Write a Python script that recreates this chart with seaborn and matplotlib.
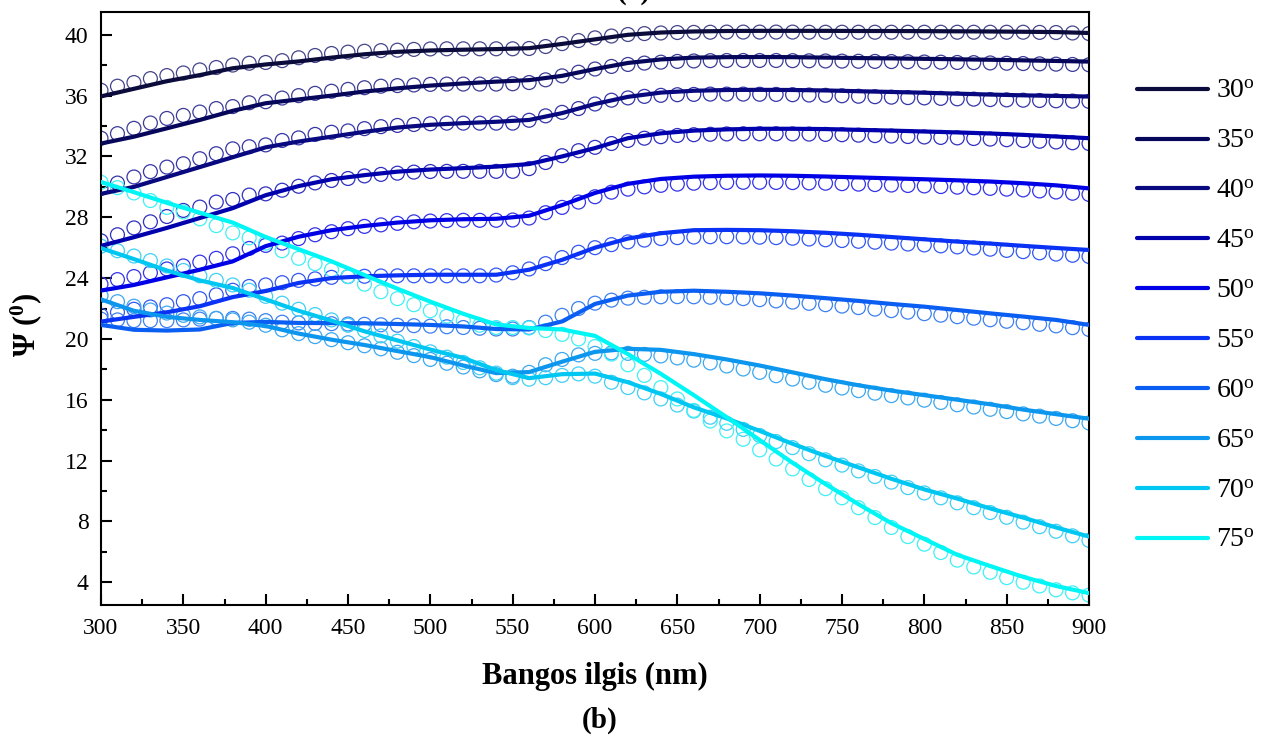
import matplotlib
matplotlib.use("Agg")
import matplotlib.pyplot as plt
import seaborn as sns
from matplotlib.lines import Line2D
from matplotlib.ticker import MultipleLocator

sns.set_style("ticks", {"axes.edgecolor": "black", "xtick.color": "black",
                        "ytick.color": "black", "text.color": "black",
                        "axes.labelcolor": "black"})
plt.rcParams["font.family"] = ["Liberation Serif", "DejaVu Serif"]
plt.rcParams["mathtext.fontset"] = "custom"
plt.rcParams["mathtext.rm"] = "Liberation Serif"
plt.rcParams["mathtext.it"] = "Liberation Serif:italic"
plt.rcParams["mathtext.bf"] = "Liberation Serif:bold"

# Angles of incidence (degrees)
angles = [30, 35, 40, 45, 50, 55, 60, 65, 70, 75]

# Wavelength grids (nm): model curves and measured points
wl_fit = list(range(300, 901, 20))
wl_exp = list(range(300, 901, 10))

# Model Psi curves (deg)
fit_30 = [35.95, 36.45, 36.95, 37.35, 37.8, 38.05, 38.25, 38.5, 38.72, 38.88, 38.97, 39.02, 39.06, 39.12, 39.4, 39.7,
          40.0, 40.15, 40.22, 40.25, 40.26, 40.26, 40.26, 40.25, 40.25, 40.24, 40.23, 40.22, 40.2, 40.18, 40.12]
fit_35 = [32.85, 33.3, 33.85, 34.4, 35.0, 35.5, 35.75, 36.0, 36.27, 36.48, 36.66, 36.8, 36.92, 37.02, 37.3, 37.75,
          38.15, 38.38, 38.5, 38.53, 38.54, 38.53, 38.5, 38.47, 38.45, 38.42, 38.39, 38.36, 38.32, 38.28, 38.24]
fit_40 = [29.54, 30.0, 30.65, 31.3, 31.95, 32.6, 32.98, 33.3, 33.62, 33.9, 34.08, 34.19, 34.28, 34.4, 34.85, 35.45,
          35.92, 36.2, 36.32, 36.37, 36.38, 36.37, 36.34, 36.29, 36.24, 36.19, 36.13, 36.07, 36.02, 35.98, 35.94]
fit_45 = [26.12, 26.69, 27.3, 27.95, 28.6, 29.45, 30.05, 30.5, 30.77, 31.0, 31.14, 31.23, 31.33, 31.5, 32.0, 32.55,
          33.2, 33.52, 33.7, 33.78, 33.82, 33.82, 33.8, 33.75, 33.7, 33.64, 33.58, 33.51, 33.42, 33.31, 33.2]
fit_50 = [23.18, 23.55, 24.05, 24.55, 25.1, 26.1, 26.72, 27.15, 27.43, 27.65, 27.8, 27.87, 27.9, 28.1, 28.8, 29.6,
          30.2, 30.52, 30.67, 30.73, 30.75, 30.73, 30.68, 30.62, 30.56, 30.5, 30.43, 30.35, 30.24, 30.1, 29.9]
fit_55 = [21.14, 21.45, 21.75, 22.15, 22.75, 23.15, 23.68, 24.0, 24.12, 24.18, 24.22, 24.22, 24.22, 24.55, 25.2, 26.0,
          26.6, 26.95, 27.15, 27.17, 27.15, 27.08, 26.98, 26.85, 26.7, 26.55, 26.4, 26.27, 26.12, 25.98, 25.85]
fit_60 = [20.92, 20.6, 20.55, 20.62, 21.05, 21.12, 21.05, 21.04, 21.03, 20.98, 20.92, 20.82, 20.65, 20.62, 21.15, 22.3,
          22.85, 23.1, 23.17, 23.1, 23.0, 22.85, 22.68, 22.5, 22.3, 22.12, 21.9, 21.68, 21.47, 21.25, 20.92]
fit_65 = [22.6, 21.85, 21.45, 21.25, 21.1, 20.85, 20.35, 19.95, 19.6, 19.2, 18.8, 18.25, 17.75, 17.82, 18.5, 19.15,
          19.35, 19.28, 19.0, 18.65, 18.25, 17.8, 17.35, 16.95, 16.6, 16.3, 16.0, 15.7, 15.35, 15.05, 14.75]
fit_70 = [25.97, 25.25, 24.5, 23.85, 23.35, 22.6, 21.85, 21.2, 20.5, 19.9, 19.3, 18.75, 17.95, 17.42, 17.68, 17.72,
          17.15, 16.38, 15.5, 14.77, 13.95, 13.1, 12.3, 11.55, 10.8, 10.1, 9.5, 8.85, 8.25, 7.6, 7.0]
fit_75 = [30.32, 29.65, 28.95, 28.3, 27.65, 26.7, 25.9, 25.1, 24.2, 23.3, 22.45, 21.65, 20.95, 20.72, 20.62, 20.2,
          19.0, 17.7, 16.3, 14.85, 13.35, 11.85, 10.45, 9.13, 7.88, 6.84, 5.8, 5.06, 4.35, 3.75, 3.28]

# Measured Psi points (deg)
exp_30 = [36.35, 36.62, 36.86, 37.12, 37.32, 37.49, 37.69, 37.85, 38.01, 38.13,
          38.18, 38.3, 38.49, 38.64, 38.77, 38.86, 38.92, 38.96, 38.99, 39.04,
          39.07, 39.08, 39.08, 39.08, 39.08, 39.08, 39.1, 39.23, 39.42, 39.62,
          39.8, 39.92, 40.02, 40.08, 40.12, 40.15, 40.16, 40.17, 40.18, 40.18,
          40.18, 40.18, 40.18, 40.17, 40.17, 40.17, 40.17, 40.17, 40.17, 40.17,
          40.17, 40.17, 40.17, 40.17, 40.17, 40.17, 40.17, 40.16, 40.15, 40.12,
          40.08]
exp_35 = [33.2, 33.5, 33.85, 34.2, 34.5, 34.7, 34.92, 35.15, 35.28, 35.53,
          35.6, 35.84, 36.0, 36.15, 36.29, 36.41, 36.52, 36.62, 36.66, 36.7,
          36.74, 36.76, 36.76, 36.76, 36.76, 36.78, 36.86, 37.04, 37.3, 37.54,
          37.75, 37.92, 38.05, 38.14, 38.2, 38.25, 38.28, 38.3, 38.31, 38.31,
          38.31, 38.31, 38.3, 38.29, 38.28, 38.27, 38.26, 38.25, 38.24, 38.23,
          38.21, 38.2, 38.18, 38.17, 38.15, 38.13, 38.11, 38.09, 38.07, 38.05,
          38.03]
exp_40 = [29.9, 30.25, 30.65, 31.0, 31.3, 31.52, 31.85, 32.18, 32.5, 32.64,
          32.76, 33.05, 33.22, 33.45, 33.59, 33.68, 33.83, 33.96, 34.04, 34.1,
          34.15, 34.19, 34.19, 34.19, 34.19, 34.19, 34.38, 34.67, 34.9, 35.15,
          35.45, 35.7, 35.85, 35.95, 36.02, 36.06, 36.08, 36.1, 36.1, 36.1,
          36.09, 36.08, 36.06, 36.04, 36.02, 35.99, 35.96, 35.93, 35.9, 35.87,
          35.85, 35.82, 35.79, 35.77, 35.74, 35.72, 35.7, 35.68, 35.66, 35.64,
          35.62]
exp_45 = [26.45, 26.85, 27.3, 27.7, 28.05, 28.45, 28.67, 29.0, 29.17, 29.46,
          29.54, 29.78, 30.04, 30.26, 30.42, 30.55, 30.72, 30.82, 30.9, 30.97,
          31.01, 31.02, 31.02, 31.02, 31.02, 31.02, 31.2, 31.6, 32.05, 32.38,
          32.6, 32.85, 33.05, 33.2, 33.3, 33.38, 33.43, 33.46, 33.48, 33.49,
          33.49, 33.49, 33.48, 33.47, 33.45, 33.43, 33.4, 33.37, 33.34, 33.31,
          33.28, 33.25, 33.22, 33.18, 33.14, 33.1, 33.05, 33.0, 32.95, 32.9,
          32.85]
exp_50 = [23.6, 23.9, 24.1, 24.35, 24.6, 24.8, 25.05, 25.3, 25.6, 25.95,
          26.15, 26.3, 26.6, 26.85, 27.05, 27.25, 27.4, 27.5, 27.6, 27.7,
          27.75, 27.78, 27.8, 27.8, 27.8, 27.82, 27.95, 28.3, 28.65, 29.0,
          29.35, 29.65, 29.85, 30.0, 30.1, 30.18, 30.24, 30.27, 30.29, 30.3,
          30.3, 30.29, 30.28, 30.26, 30.24, 30.21, 30.18, 30.15, 30.12, 30.09,
          30.06, 30.02, 29.98, 29.94, 29.9, 29.85, 29.8, 29.73, 29.66, 29.58,
          29.5]
exp_55 = [21.55, 21.75, 21.95, 22.1, 22.25, 22.45, 22.65, 22.9, 23.2, 23.45,
          23.55, 23.7, 23.85, 23.95, 24.05, 24.1, 24.12, 24.14, 24.15, 24.15,
          24.15, 24.15, 24.15, 24.15, 24.2, 24.35, 24.6, 24.95, 25.35, 25.7,
          26.0, 26.2, 26.38, 26.5, 26.6, 26.66, 26.7, 26.72, 26.72, 26.71,
          26.69, 26.66, 26.62, 26.57, 26.52, 26.47, 26.42, 26.36, 26.3, 26.24,
          26.18, 26.12, 26.05, 25.98, 25.9, 25.82, 25.74, 25.66, 25.58, 25.5,
          25.42]
exp_60 = [21.3, 21.25, 21.2, 21.2, 21.2, 21.25, 21.3, 21.35, 21.35, 21.3,
          21.2, 21.1, 21.05, 21.02, 21.0, 20.98, 20.96, 20.93, 20.9, 20.87,
          20.84, 20.8, 20.75, 20.7, 20.65, 20.65, 20.75, 21.1, 21.55, 22.0,
          22.35, 22.55, 22.68, 22.74, 22.77, 22.78, 22.77, 22.74, 22.7, 22.65,
          22.58, 22.5, 22.42, 22.34, 22.25, 22.16, 22.06, 21.96, 21.86, 21.76,
          21.66, 21.56, 21.46, 21.36, 21.26, 21.16, 21.06, 20.96, 20.86, 20.74,
          20.62]
exp_65 = [22.85, 22.45, 22.15, 21.9, 21.7, 21.55, 21.45, 21.35, 21.25, 21.1,
          20.9, 20.6, 20.35, 20.15, 19.95, 19.75, 19.55, 19.35, 19.12, 18.9,
          18.65, 18.4, 18.15, 17.9, 17.65, 17.55, 17.8, 18.3, 18.65, 18.95,
          19.05, 19.08, 19.05, 18.98, 18.88, 18.75, 18.6, 18.42, 18.22, 18.02,
          17.8, 17.58, 17.36, 17.15, 16.95, 16.77, 16.6, 16.43, 16.27, 16.12,
          15.97, 15.82, 15.67, 15.52, 15.37, 15.22, 15.07, 14.92, 14.77, 14.62,
          14.47]
exp_70 = [26.1, 25.8, 25.45, 25.15, 24.8, 24.5, 24.15, 23.85, 23.55, 23.2,
          22.8, 22.35, 21.95, 21.6, 21.25, 20.9, 20.55, 20.2, 19.85, 19.5,
          19.15, 18.8, 18.45, 18.1, 17.75, 17.45, 17.35, 17.45, 17.6, 17.7,
          17.55, 17.15, 16.8, 16.45, 16.05, 15.65, 15.25, 14.85, 14.45, 14.05,
          13.65, 13.25, 12.85, 12.45, 12.05, 11.7, 11.32, 10.95, 10.58, 10.22,
          9.87, 9.55, 9.22, 8.9, 8.58, 8.27, 7.95, 7.65, 7.35, 7.05,
          6.75]
exp_75 = [30.3, 29.95, 29.6, 29.1, 28.65, 28.35, 27.9, 27.45, 26.97, 26.65,
          26.3, 25.8, 25.3, 24.95, 24.55, 24.1, 23.6, 23.1, 22.65, 22.25,
          21.85, 21.5, 21.2, 20.9, 20.75, 20.75, 20.72, 20.55, 20.3, 20.0,
          19.5, 19.0, 18.3, 17.6, 16.8, 16.05, 15.3, 14.6, 13.95, 13.4,
          12.7, 12.1, 11.45, 10.75, 10.15, 9.55, 8.9, 8.25, 7.6, 7.0,
          6.5, 5.95, 5.45, 5.0, 4.65, 4.3, 4.0, 3.75, 3.5, 3.3,
          3.15]

fit_sets = [fit_30, fit_35, fit_40, fit_45, fit_50, fit_55, fit_60, fit_65, fit_70, fit_75]
exp_sets = [exp_30, exp_35, exp_40, exp_45, exp_50, exp_55, exp_60, exp_65, exp_70, exp_75]

line_colors = ["#0b0b3c", "#06065a", "#08087f", "#0000ad", "#0000e6",
               "#0a32f5", "#0a5ef2", "#0d96ee", "#00c6f2", "#00f5f5"]
marker_colors = ["#45458c", "#3c3c98", "#3535a8", "#3030c0", "#3434e8",
                 "#3358f2", "#3d80f0", "#3da8f0", "#40d0f5", "#40f0f5"]

fig = plt.figure(figsize=(12.63, 7.37), dpi=100)
ax = fig.add_axes([101 / 1263, 1 - 605 / 737, 988 / 1263, 593 / 737])

# measured points as open circles, model curves drawn over them
for ys, ec in zip(exp_sets, marker_colors):
    sns.scatterplot(x=wl_exp, y=ys, ax=ax, marker="o", s=100,
                    facecolor="none", edgecolor=ec, linewidth=0.9,
                    legend=False, zorder=2)

for ys, c in zip(fit_sets, line_colors):
    sns.lineplot(x=wl_fit, y=ys, ax=ax, color=c, linewidth=3.0,
                 legend=False, zorder=3)

ax.set_xlim(300, 900)
ax.set_ylim(2.5, 41.5)
ax.xaxis.set_major_locator(MultipleLocator(50))
ax.xaxis.set_minor_locator(MultipleLocator(25))
ax.yaxis.set_major_locator(MultipleLocator(4))
ax.yaxis.set_minor_locator(MultipleLocator(2))
ax.set_yticks(range(4, 41, 4))

ax.tick_params(which="both", direction="in", top=False, right=False,
               width=1.5, labelsize=17, pad=9)
ax.tick_params(which="major", length=8)
ax.tick_params(which="minor", length=4)
for sp in ax.spines.values():
    sp.set_linewidth(1.5)
    sp.set_color("black")
ax.grid(False)

ax.set_xlabel("Bangos ilgis (nm)", fontsize=22, fontweight="bold")
ax.xaxis.set_label_coords(0.5, -0.096)
ax.set_ylabel("Ψ ($^{\\mathbf{0}}$)", fontsize=22, fontweight="bold")
ax.yaxis.set_label_coords(-0.058, 0.472)

handles = [Line2D([0], [0], color=c, lw=3.0) for c in line_colors]
labels = [f"{a}$^{{\\rm o}}$" for a in angles]
fig.legend(handles, labels, loc="upper left",
           bbox_to_anchor=(1137 / 1263, 1 - 79 / 737),
           frameon=False, fontsize=20, handlelength=2.55, handletextpad=0.3,
           labelspacing=0.88, borderaxespad=0, borderpad=0)

fig.text(0.475, 0.023, "(b)", fontsize=21, fontweight="bold",
         ha="center", va="center")
fig.text(0.502, 1 - 5 / 737, "(a)", fontsize=21, fontweight="bold",
         ha="center", va="bottom")

fig.savefig("out.png", dpi=100)
